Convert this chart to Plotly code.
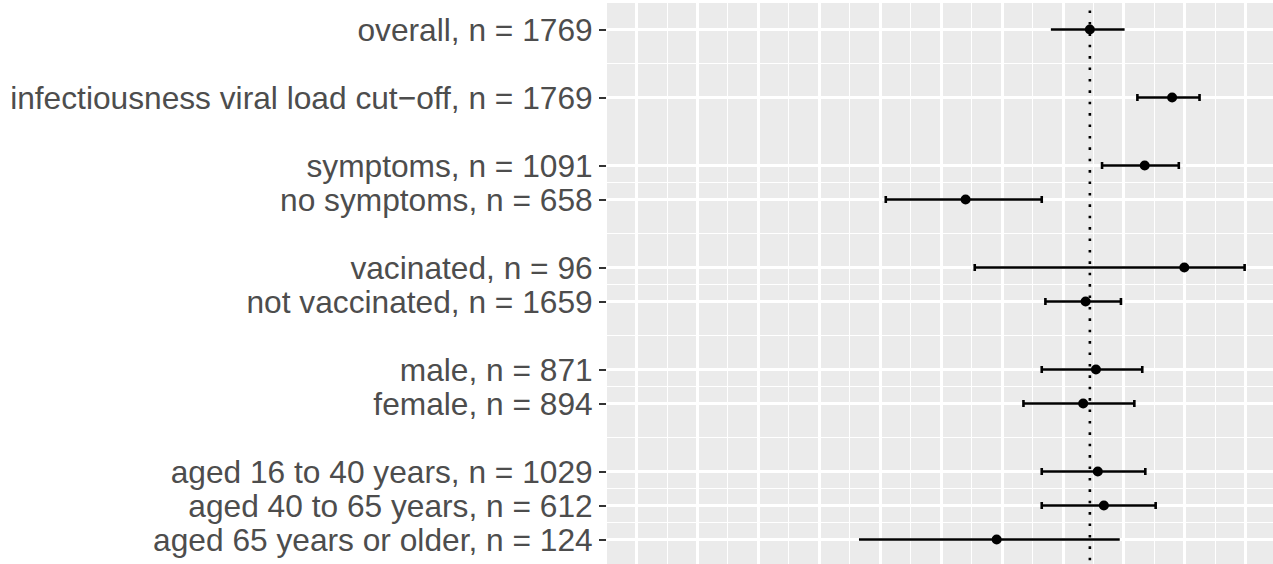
import plotly.graph_objects as go

# ---- data (x in arbitrary axis units; one major gridline per unit) ----
labels = [
    "overall, n = 1769",
    "infectiousness viral load cut\u2212off, n = 1769",
    "symptoms, n = 1091",
    "no symptoms, n = 658",
    "vacinated, n = 96",
    "not vaccinated, n = 1659",
    "male, n = 871",
    "female, n = 894",
    "aged 16 to 40 years, n = 1029",
    "aged 40 to 65 years, n = 612",
    "aged 65 years or older, n = 124",
]
positions = [0, 2, 4, 5, 7, 8, 10, 11, 13, 14, 15]
estimate = [7.44, 8.79, 8.34, 5.40, 8.99, 7.37, 7.54, 7.33, 7.57, 7.67, 5.91]
ci_low   = [6.80, 8.22, 7.64, 4.09, 5.55, 6.71, 6.65, 6.35, 6.65, 6.65, 3.65]
ci_high  = [8.01, 9.24, 8.90, 6.65, 9.98, 7.95, 8.30, 8.17, 8.35, 8.52, 7.93]
capped   = [False, True, True, True, True, True, True, True, True, True, False]
reference = 7.44

x_major = list(range(0, 11))
x_minor = [k + 0.5 for k in range(0, 11)]
y_minor = [1, 4.5, 6, 7.5, 9, 10.5, 12, 13.5, 14.5]

fig = go.Figure()

for cap in (True, False):
    idx = [i for i, c in enumerate(capped) if c == cap]
    est = [estimate[i] for i in idx]
    fig.add_trace(go.Scatter(
        x=est,
        y=[positions[i] for i in idx],
        mode="markers",
        marker=dict(color="black", size=10),
        error_x=dict(
            type="data", symmetric=False,
            array=[ci_high[i] - estimate[i] for i in idx],
            arrayminus=[estimate[i] - ci_low[i] for i in idx],
            color="black", thickness=2.6, width=3.5 if cap else 0,
        ),
        showlegend=False,
        hoverinfo="skip",
    ))

fig.add_shape(type="line", xref="x", yref="y",
              x0=reference, x1=reference, y0=-0.56, y1=16,
              line=dict(color="black", width=2.6, dash="2.6px,8.8px"),
              layer="between")

fig.update_layout(
    width=1273, height=564,
    margin=dict(l=607, r=0, t=3, b=0),
    paper_bgcolor="white",
    plot_bgcolor="#EBEBEB",
    font=dict(family="Liberation Sans, Arial, sans-serif"),
)

fig.update_xaxes(
    range=[-0.486, 10.446],
    tickmode="array", tickvals=x_major,
    showticklabels=False, ticks="",
    showgrid=True, gridcolor="white", gridwidth=2.5,
    minor=dict(tickmode="array", tickvals=x_minor, showgrid=True,
               gridcolor="white", gridwidth=1.3, ticks=""),
    zeroline=False, showline=False,
)

fig.update_yaxes(
    range=[15.72, -0.78],
    tickmode="array", tickvals=positions, ticktext=labels,
    tickfont=dict(size=31.7, color="#4D4D4D",
                  family="Liberation Sans, Arial, sans-serif"),
    ticks="outside", ticklen=7, tickwidth=2.4, tickcolor="#333333",
    ticklabelstandoff=0,
    showgrid=True, gridcolor="white", gridwidth=2.5,
    minor=dict(tickmode="array", tickvals=y_minor, showgrid=True,
               gridcolor="white", gridwidth=1.3, ticks=""),
    zeroline=False, showline=False,
)

fig.write_html("out.html",
               config={"displayModeBar": False},
               post_script="document.body.style.margin='0';document.body.style.padding='0';")
